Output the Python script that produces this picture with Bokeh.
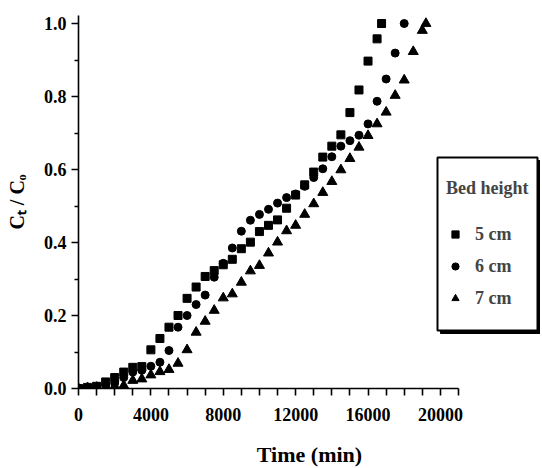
from bokeh.plotting import figure
from bokeh.models import Range1d, FixedTicker, Legend, LegendItem, BoxAnnotation, PrintfTickFormatter
from bokeh.embed import file_html
from bokeh.resources import INLINE

# ---- data ----
time_5cm = [0, 500, 1000, 1500, 2000, 2500, 3000, 3500, 4000, 4500, 5000, 5500, 6000, 6500,
            7000, 7500, 8000, 8500, 9000, 9500, 10000, 10500, 11000, 11500, 12000, 12500,
            13000, 13500, 14000, 14500, 15000, 15500, 16000, 16500, 16750]
ct_5cm = [0.0, 0.003, 0.006, 0.018, 0.030, 0.045, 0.058, 0.060, 0.106, 0.137, 0.168, 0.200,
          0.247, 0.278, 0.307, 0.323, 0.339, 0.354, 0.383, 0.401, 0.430, 0.447, 0.462, 0.494,
          0.530, 0.558, 0.593, 0.634, 0.664, 0.695, 0.756, 0.818, 0.897, 0.958, 1.0]

time_6cm = [0, 500, 1000, 1500, 2000, 2500, 3000, 3500, 4000, 4500, 5000, 5500, 6000, 6500,
            7000, 7500, 8000, 8500, 9000, 9500, 10000, 10500, 11000, 11500, 12000, 12500,
            13000, 13500, 14000, 14500, 15000, 15500, 16000, 16500, 17000, 17500, 18000]
ct_6cm = [0.0, 0.002, 0.004, 0.008, 0.015, 0.030, 0.045, 0.050, 0.061, 0.072, 0.104, 0.168,
          0.200, 0.230, 0.256, 0.305, 0.343, 0.385, 0.431, 0.461, 0.477, 0.491, 0.508, 0.523,
          0.533, 0.554, 0.578, 0.602, 0.635, 0.664, 0.679, 0.694, 0.725, 0.787, 0.848, 0.919, 1.0]

time_7cm = [0, 500, 1000, 1500, 2000, 2500, 3000, 3500, 4000, 4500, 5000, 5500, 6000, 6500,
            7000, 7500, 8000, 8500, 9000, 9500, 10000, 10500, 11000, 11500, 12000, 12500,
            13000, 13500, 14000, 14500, 15000, 15500, 16000, 16500, 17000, 17500, 18000,
            18500, 19000, 19200]
ct_7cm = [0.0, 0.002, 0.003, 0.004, 0.006, 0.008, 0.022, 0.026, 0.037, 0.046, 0.052, 0.069,
          0.106, 0.154, 0.184, 0.214, 0.248, 0.259, 0.291, 0.322, 0.337, 0.371, 0.401, 0.432,
          0.447, 0.477, 0.506, 0.537, 0.567, 0.599, 0.630, 0.661, 0.693, 0.725, 0.757, 0.803,
          0.845, 0.923, 0.981, 1.0]

series_labels = ["5 cm", "6 cm", "7 cm"]
legend_title = "Bed height"
x_major_ticks = [0, 4000, 8000, 12000, 16000, 20000]
x_minor_ticks = [1000, 2000, 3000, 5000, 6000, 7000, 9000, 10000, 11000, 13000, 14000, 15000,
                 17000, 18000, 19000, 21000]
y_major_ticks = [0.0, 0.2, 0.4, 0.6, 0.8, 1.0]
y_minor_ticks = [0.1, 0.3, 0.5, 0.7, 0.9]
x_label = "Time (min)"
y_label = "C\u209c / C\u2092"

FONT = "Liberation Serif"

# frame spans the legend too; the x axis itself is bounded to 0..21000
p = figure(frame_width=462, frame_height=373,
           min_border_left=78, min_border_right=0, min_border_top=15, min_border_bottom=79,
           x_range=Range1d(0, 25532), y_range=Range1d(0, 1.022),
           output_backend="svg", toolbar_location=None)
p.outline_line_color = None
p.grid.visible = False
p.background_fill_color = "white"

# axes
p.xaxis.bounds = (0, 21000)
p.xaxis.ticker = FixedTicker(ticks=x_major_ticks, minor_ticks=x_minor_ticks)
p.xaxis.formatter = PrintfTickFormatter(format="%d")
p.yaxis.ticker = FixedTicker(ticks=y_major_ticks, minor_ticks=y_minor_ticks)
p.yaxis.formatter = PrintfTickFormatter(format="%.1f")

for ax in (p.xaxis, p.yaxis):
    ax.axis_line_width = 1.6
    ax.axis_line_color = "black"
    ax.major_tick_line_width = 1.6
    ax.minor_tick_line_width = 1.6
    ax.major_tick_line_color = "black"
    ax.minor_tick_line_color = "black"
    ax.major_tick_in = 0
    ax.minor_tick_in = 0
    ax.major_label_text_font = FONT
    ax.major_label_text_font_style = "bold"
    ax.major_label_text_font_size = "18px"
    ax.major_label_text_color = "black"
    ax.axis_label_text_font = FONT
    ax.axis_label_text_font_style = "bold"
    ax.axis_label_text_color = "black"

p.xaxis.major_tick_out = 7
p.xaxis.minor_tick_out = 7
p.yaxis.major_tick_out = 7
p.yaxis.minor_tick_out = 4
p.xaxis.major_label_standoff = 12
p.yaxis.major_label_standoff = 5
p.xaxis.axis_label = x_label
p.yaxis.axis_label = y_label
p.xaxis.axis_label_text_font_size = "22px"
p.yaxis.axis_label_text_font_size = "20px"
p.xaxis.axis_label_standoff = 18
p.yaxis.axis_label_standoff = 13

r5 = p.scatter(time_5cm, ct_5cm, marker="square", size=8, color="black")
r6 = p.scatter(time_6cm, ct_6cm, marker="circle", size=8, color="black")
r7 = p.scatter(time_7cm, ct_7cm, marker="triangle", size=10, color="black")

# legend frame with drop shadow (canvas pixels)
shadow = BoxAnnotation(left=440, right=540, top=160, bottom=333,
                       left_units="canvas", right_units="canvas",
                       top_units="canvas", bottom_units="canvas",
                       fill_color="black", fill_alpha=1.0,
                       line_color="black", line_alpha=1.0, line_width=1)
box = BoxAnnotation(left=437, right=537, top=157, bottom=330,
                    left_units="canvas", right_units="canvas",
                    top_units="canvas", bottom_units="canvas",
                    fill_color="white", fill_alpha=1.0,
                    line_color="black", line_alpha=1.0, line_width=2)
p.add_layout(shadow)
p.add_layout(box)

legend = Legend(items=[LegendItem(label=series_labels[0], renderers=[r5]),
                       LegendItem(label=series_labels[1], renderers=[r6]),
                       LegendItem(label=series_labels[2], renderers=[r7])],
                title=legend_title, location=(368, 79),
                padding=9, spacing=10, glyph_width=18, glyph_height=20, label_height=22,
                label_standoff=11, title_standoff=24,
                border_line_color=None, background_fill_alpha=0)
legend.title_text_font = FONT
legend.title_text_font_style = "bold"
legend.title_text_font_size = "18px"
legend.label_text_font = FONT
legend.label_text_font_style = "bold"
legend.label_text_font_size = "18px"
p.add_layout(legend)

open("out.html", "w").write(file_html(p, INLINE))
